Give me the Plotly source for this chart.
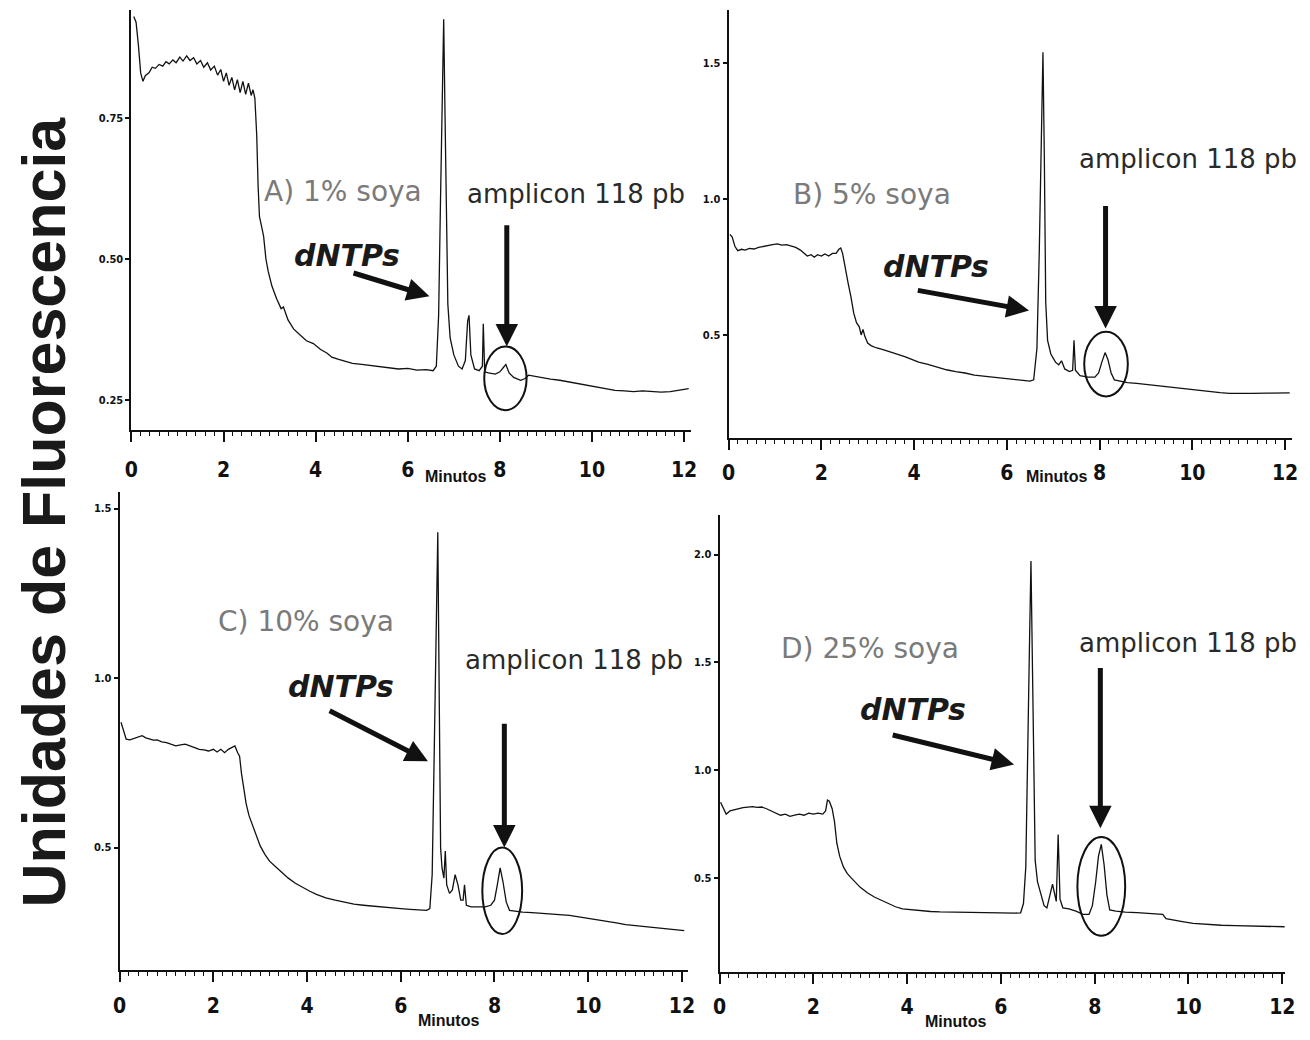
import plotly.graph_objects as go

# page body has an 8px margin: figure is drawn 8px in from the window corner
OFF = 8
W, H = 1310 - 2 * OFF, 1040 - 2 * OFF

# ---------------- data ----------------
tA = [0.05,0.10,0.15,0.20,0.25,0.30,0.38,0.45,0.52,0.60,0.68,0.75,0.82,0.90,0.97,1.05,1.12,1.20,1.27,1.35,1.42,1.50,1.57,1.65,1.72,1.80,1.87,1.94,2.00,2.06,2.12,2.18,2.24,2.30,2.36,2.42,2.48,2.54,2.60,2.64,2.68,2.72,2.75,2.78,2.82,2.87,2.92,2.97,3.05,3.15,3.25,3.30,3.40,3.52,3.65,3.80,3.95,4.10,4.25,4.35,4.50,4.65,4.80,5.00,5.20,5.40,5.60,5.80,6.00,6.20,6.40,6.55,6.62,6.67,6.71,6.75,6.78,6.81,6.84,6.87,6.92,7.00,7.10,7.18,7.25,7.30,7.33,7.37,7.45,7.55,7.62,7.64,7.67,7.75,7.90,8.00,8.08,8.13,8.20,8.30,8.45,8.55,8.62,8.75,8.90,9.10,9.30,9.50,9.70,9.90,10.10,10.30,10.50,10.70,10.90,11.10,11.30,11.50,11.70,11.90,12.10]
vA = [0.93,0.92,0.88,0.83,0.815,0.825,0.83,0.84,0.838,0.845,0.842,0.85,0.846,0.853,0.848,0.858,0.851,0.86,0.852,0.857,0.846,0.852,0.84,0.848,0.835,0.842,0.826,0.836,0.815,0.83,0.808,0.822,0.80,0.818,0.795,0.815,0.792,0.812,0.79,0.80,0.785,0.72,0.63,0.575,0.56,0.54,0.50,0.478,0.452,0.43,0.412,0.415,0.392,0.376,0.366,0.355,0.35,0.34,0.333,0.326,0.322,0.318,0.315,0.313,0.311,0.308,0.307,0.305,0.306,0.303,0.304,0.302,0.31,0.40,0.60,0.82,0.925,0.75,0.55,0.42,0.36,0.33,0.31,0.305,0.32,0.39,0.40,0.33,0.305,0.302,0.31,0.385,0.30,0.298,0.296,0.30,0.308,0.313,0.298,0.29,0.285,0.288,0.294,0.292,0.290,0.287,0.285,0.282,0.278,0.276,0.273,0.27,0.267,0.266,0.265,0.266,0.265,0.264,0.265,0.268,0.27]

tB = [0.03,0.08,0.14,0.20,0.28,0.36,0.45,0.55,0.65,0.75,0.85,0.95,1.05,1.15,1.25,1.35,1.45,1.55,1.62,1.70,1.78,1.85,1.92,2.00,2.08,2.16,2.24,2.32,2.38,2.42,2.46,2.52,2.58,2.64,2.70,2.76,2.82,2.86,2.90,2.94,3.00,3.08,3.20,3.35,3.50,3.65,3.80,3.95,4.10,4.30,4.50,4.70,4.90,5.10,5.30,5.50,5.70,5.90,6.10,6.30,6.50,6.58,6.65,6.70,6.74,6.78,6.81,6.84,6.88,6.95,7.05,7.12,7.18,7.25,7.35,7.42,7.45,7.48,7.58,7.75,7.90,7.98,8.05,8.12,8.18,8.25,8.32,8.45,8.60,8.80,9.00,9.20,9.40,9.60,9.80,10.00,10.20,10.40,10.60,10.80,11.00,11.30,11.60,11.90,12.10]
vB = [0.87,0.86,0.825,0.81,0.815,0.812,0.818,0.816,0.822,0.826,0.83,0.832,0.835,0.83,0.832,0.826,0.822,0.812,0.80,0.79,0.795,0.786,0.795,0.79,0.798,0.79,0.80,0.80,0.815,0.82,0.80,0.74,0.69,0.64,0.58,0.545,0.53,0.50,0.52,0.495,0.47,0.46,0.452,0.445,0.437,0.428,0.42,0.41,0.40,0.392,0.382,0.372,0.365,0.36,0.352,0.348,0.344,0.34,0.336,0.333,0.33,0.335,0.45,0.80,1.25,1.54,1.15,0.62,0.48,0.43,0.40,0.39,0.405,0.375,0.365,0.37,0.48,0.37,0.35,0.345,0.345,0.36,0.40,0.435,0.41,0.36,0.335,0.33,0.325,0.322,0.318,0.314,0.31,0.306,0.302,0.298,0.294,0.29,0.288,0.285,0.284,0.285,0.286,0.287,0.287]

tC = [0.03,0.08,0.14,0.22,0.30,0.40,0.48,0.56,0.64,0.72,0.80,0.90,1.00,1.10,1.20,1.30,1.40,1.50,1.60,1.70,1.80,1.90,2.00,2.08,2.16,2.24,2.32,2.40,2.46,2.52,2.56,2.60,2.64,2.70,2.76,2.84,2.92,3.00,3.10,3.20,3.30,3.45,3.60,3.75,3.90,4.05,4.20,4.40,4.60,4.80,5.00,5.20,5.40,5.60,5.80,6.00,6.20,6.40,6.55,6.62,6.67,6.71,6.75,6.79,6.82,6.85,6.88,6.92,6.95,6.98,7.04,7.10,7.16,7.22,7.28,7.33,7.36,7.40,7.50,7.65,7.80,7.92,8.00,8.06,8.12,8.18,8.25,8.32,8.45,8.60,8.80,9.00,9.20,9.40,9.60,9.80,10.00,10.20,10.40,10.60,10.80,11.00,11.20,11.40,11.60,11.80,12.05]
vC = [0.87,0.845,0.82,0.818,0.822,0.826,0.83,0.824,0.82,0.817,0.818,0.812,0.81,0.804,0.80,0.803,0.805,0.80,0.795,0.79,0.788,0.785,0.79,0.782,0.79,0.78,0.79,0.795,0.80,0.78,0.77,0.72,0.68,0.63,0.595,0.565,0.53,0.505,0.48,0.46,0.447,0.428,0.41,0.395,0.383,0.372,0.362,0.352,0.345,0.338,0.333,0.33,0.327,0.324,0.322,0.32,0.318,0.317,0.315,0.32,0.42,0.75,1.10,1.43,0.95,0.50,0.44,0.41,0.49,0.39,0.365,0.375,0.42,0.39,0.345,0.345,0.39,0.33,0.325,0.325,0.325,0.33,0.345,0.39,0.44,0.40,0.34,0.315,0.312,0.31,0.308,0.306,0.305,0.303,0.30,0.296,0.292,0.288,0.283,0.278,0.273,0.27,0.266,0.263,0.26,0.257,0.255]

tD = [0.02,0.08,0.14,0.22,0.30,0.40,0.50,0.60,0.70,0.80,0.90,1.00,1.10,1.20,1.30,1.40,1.50,1.60,1.70,1.80,1.90,2.00,2.10,2.20,2.26,2.30,2.34,2.40,2.45,2.50,2.56,2.64,2.72,2.80,2.90,3.00,3.15,3.30,3.45,3.60,3.75,3.90,4.10,4.30,4.50,4.70,4.90,5.10,5.30,5.50,5.70,5.90,6.10,6.30,6.42,6.48,6.53,6.57,6.61,6.64,6.67,6.70,6.73,6.78,6.85,6.92,6.98,7.05,7.10,7.14,7.18,7.22,7.26,7.32,7.45,7.60,7.75,7.88,7.95,8.02,8.08,8.14,8.20,8.26,8.32,8.45,8.65,8.90,9.20,9.45,9.52,9.70,9.90,10.10,10.40,10.70,11.00,11.30,11.60,11.90,12.05]
vD = [0.85,0.82,0.795,0.81,0.815,0.82,0.825,0.828,0.83,0.826,0.828,0.82,0.81,0.80,0.79,0.795,0.785,0.79,0.795,0.79,0.80,0.795,0.80,0.795,0.81,0.86,0.855,0.82,0.76,0.66,0.60,0.55,0.52,0.50,0.475,0.455,0.43,0.41,0.395,0.38,0.365,0.355,0.35,0.345,0.343,0.341,0.34,0.338,0.338,0.337,0.336,0.336,0.335,0.335,0.337,0.38,0.55,1.0,1.6,1.97,1.5,0.9,0.58,0.48,0.42,0.37,0.36,0.42,0.47,0.43,0.39,0.70,0.40,0.36,0.355,0.345,0.33,0.33,0.37,0.48,0.60,0.655,0.56,0.42,0.35,0.345,0.34,0.338,0.335,0.33,0.31,0.302,0.295,0.288,0.283,0.279,0.277,0.275,0.274,0.272,0.272]

x_ticks = [0, 2, 4, 6, 8, 10, 12]
x_ticklabels = ["0", "2", "4", "6", "8", "10", "12"]
yA_ticks = [0.25, 0.50, 0.75]; yA_labels = ["0.25", "0.50", "0.75"]
yB_ticks = [0.5, 1.0, 1.5];    yB_labels = ["0.5", "1.0", "1.5"]
yC_ticks = [0.5, 1.0, 1.5];    yC_labels = ["0.5", "1.0", "1.5"]
yD_ticks = [0.5, 1.0, 1.5, 2.0]; yD_labels = ["0.5", "1.0", "1.5", "2.0"]

panel_labels = ["A) 1% soya", "B) 5% soya", "C) 10% soya", "D) 25% soya"]
amplicon_label = "amplicon 118 pb"
dntp_label = "dNTPs"
x_title = "Minutos"
y_title = "Unidades de Fluorescencia"

# ---------------- layout geometry (reference pixels) ----------------
def px_x(a, b):
    return [(a - OFF) / W, (b - OFF) / W]

def px_y(top, bottom):
    return [1 - (bottom - OFF) / H, 1 - (top - OFF) / H]

panels = [
    dict(t=tA, v=vA, xd=px_x(126, 693), yd=px_y(10, 430), xr=[0, 12.15], yr=[0.1968, 0.9415],
         yt=yA_ticks, yl=yA_labels, lab=(4.6, 0.619), amp=(9.65, 0.616), dn=(4.67, 0.506),
         arr=((4.79, 0.476), (6.47, 0.434)), varr=(8.15, 0.5625, 0.345), ell=(7.66, 8.58, 0.232, 0.345),
         mx=(454, 476), so=10),
    dict(t=tB, v=vB, xd=px_x(731, 1302), yd=px_y(10, 438), xr=[0, 12.15], yr=[0.121, 1.695],
         yt=yB_ticks, yl=yB_labels, lab=(3.1, 1.018), amp=(9.9, 1.146), dn=(4.47, 0.75),
         arr=((4.05, 0.665), (6.48, 0.59)), varr=(8.13, 0.98, 0.524), ell=(7.67, 8.61, 0.274, 0.512),
         mx=(1063, 476), so=5),
    dict(t=tC, v=vC, xd=px_x(114, 690), yd=px_y(492, 970), xr=[0, 12.13], yr=[0.139, 1.549],
         yt=yC_ticks, yl=yC_labels, lab=(3.97, 1.167), amp=(9.7, 1.052), dn=(4.73, 0.974),
         arr=((4.45, 0.906), (6.58, 0.755)), varr=(8.21, 0.87, 0.50), ell=(7.74, 8.59, 0.245, 0.50),
         mx=(447, 1020), so=6),
    dict(t=tD, v=vD, xd=px_x(722, 1295), yd=px_y(515, 972), xr=[0, 12.06], yr=[0.062, 2.184],
         yt=yD_ticks, yl=yD_labels, lab=(3.2, 1.566), amp=(10.0, 1.59), dn=(4.12, 1.28),
         arr=((3.66, 1.164), (6.28, 1.025)), varr=(8.12, 1.48, 0.73), ell=(7.63, 8.65, 0.23, 0.689),
         mx=(961, 1021), so=5),
]

fig = go.Figure()
annotations = []
shapes = []
layout = dict(width=W, height=H, margin=dict(l=0, r=0, t=0, b=0),
              paper_bgcolor="white", plot_bgcolor="white", showlegend=False)

NARROW = "DejaVu Sans Condensed, Liberation Sans Narrow, Arial Narrow, sans-serif"
TXT = "DejaVu Sans, Verdana, sans-serif"
BOLD = "Liberation Sans, Arial, sans-serif"

for i, p in enumerate(panels, start=1):
    xa = "x" if i == 1 else f"x{i}"
    ya = "y" if i == 1 else f"y{i}"
    fig.add_trace(go.Scatter(x=p["t"], y=p["v"], mode="lines", xaxis=xa, yaxis=ya,
                             line=dict(color="#111", width=1.3), hoverinfo="skip"))
    layout["xaxis" if i == 1 else f"xaxis{i}"] = dict(
        domain=p["xd"], anchor=ya, range=p["xr"], showgrid=False, zeroline=False,
        showline=True, linecolor="#111", linewidth=2,
        tickmode="array", tickvals=x_ticks, ticktext=x_ticklabels,
        ticks="outside", ticklen=10, tickwidth=2, tickcolor="#111",
        minor=dict(dtick=0.2, ticks="outside", ticklen=4, tickwidth=1, tickcolor="#111", tick0=0),
        ticklabelstandoff=p["so"],
        tickfont=dict(family=NARROW, size=21, color="#111", weight="bold"))
    layout["yaxis" if i == 1 else f"yaxis{i}"] = dict(
        domain=p["yd"], anchor=xa, range=p["yr"], showgrid=False, zeroline=False,
        showline=True, linecolor="#111", linewidth=2,
        tickmode="array", tickvals=p["yt"], ticktext=p["yl"],
        ticks="outside", ticklen=4, tickwidth=1.5, tickcolor="#111",
        tickfont=dict(family=NARROW, size=11, color="#111", weight="bold"))

    annotations.append(dict(x=p["lab"][0], y=p["lab"][1], xref=xa, yref=ya, text=panel_labels[i - 1],
                            showarrow=False, xanchor="center",
                            font=dict(family=TXT, size=28, color="#7a7a7a")))
    annotations.append(dict(x=p["amp"][0], y=p["amp"][1], xref=xa, yref=ya, text=amplicon_label,
                            showarrow=False, xanchor="center",
                            font=dict(family=TXT, size=26, color="#2a2a2a")))
    annotations.append(dict(x=p["dn"][0], y=p["dn"][1], xref=xa, yref=ya, text=dntp_label,
                            showarrow=False, xanchor="center",
                            font=dict(family=TXT, size=30, color="#1a1a1a",
                                      style="italic", weight="bold")))
    (tx, ty), (hx, hy) = p["arr"]
    annotations.append(dict(x=hx, y=hy, ax=tx, ay=ty, xref=xa, yref=ya, axref=xa, ayref=ya,
                            text="", showarrow=True, arrowhead=2, arrowsize=0.9, arrowwidth=5,
                            arrowcolor="#111"))
    vx, vy0, vy1 = p["varr"]
    annotations.append(dict(x=vx, y=vy1, ax=vx, ay=vy0, xref=xa, yref=ya, axref=xa, ayref=ya,
                            text="", showarrow=True, arrowhead=2, arrowsize=0.9, arrowwidth=5,
                            arrowcolor="#111"))
    x0, x1, y0, y1 = p["ell"]
    shapes.append(dict(type="circle", xref=xa, yref=ya, x0=x0, x1=x1, y0=y0, y1=y1,
                       line=dict(color="#111", width=2)))
    annotations.append(dict(x=(p["mx"][0] - OFF) / W, y=1 - (p["mx"][1] - OFF) / H,
                            xref="paper", yref="paper", text=x_title, showarrow=False,
                            xanchor="center", yanchor="middle",
                            font=dict(family=BOLD, size=16, color="#111", weight="bold")))

annotations.append(dict(x=(37 - OFF) / W, y=1 - (512 - OFF) / H, xref="paper", yref="paper",
                        text=y_title, textangle=-90, showarrow=False,
                        xanchor="center", yanchor="middle",
                        font=dict(family=BOLD, size=61, color="#1a1a1a", weight="bold")))

layout["annotations"] = annotations
layout["shapes"] = shapes
fig.update_layout(**layout)
fig.write_html("out.html")
